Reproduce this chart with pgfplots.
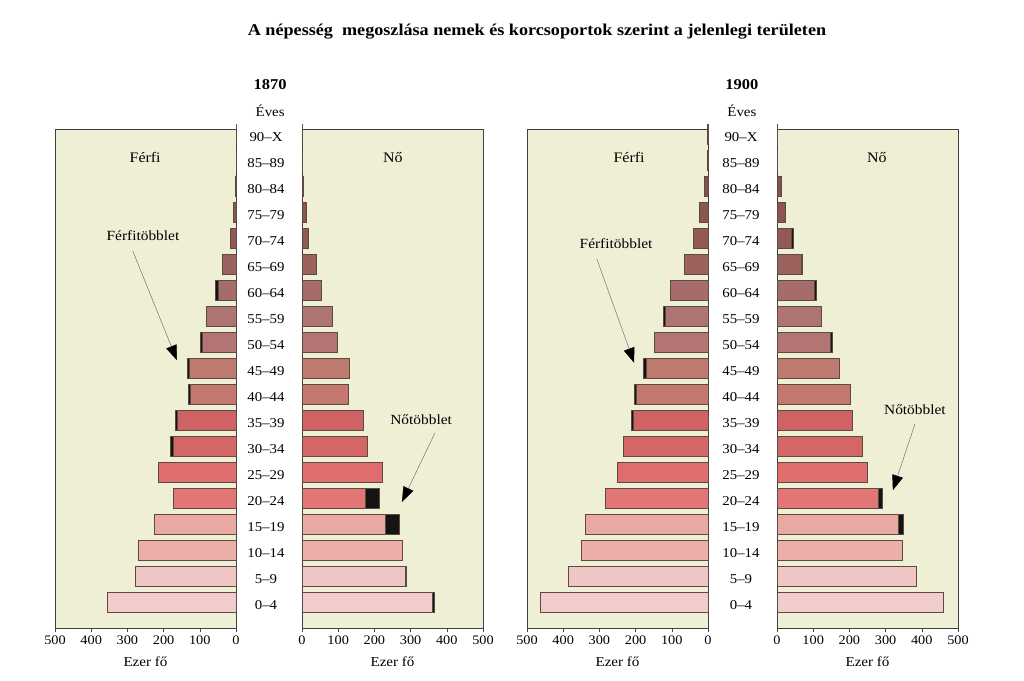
\documentclass[border=0pt]{standalone}
\usepackage{pgfplots}
\pgfplotsset{compat=1.18}
\usepackage{pgfplotstable}
\usepackage{fontspec}
\setmainfont{Liberation Serif}[FakeStretch=1.1]
\usetikzlibrary{arrows.meta}

\definecolor{bg}{HTML}{EFEFD5}
\definecolor{edge}{HTML}{5B4B42}
\definecolor{c0}{HTML}{F2CCCC}
\definecolor{c1}{HTML}{F0C6C4}
\definecolor{c2}{HTML}{ECAEA9}
\definecolor{c3}{HTML}{EAA8A2}
\definecolor{c4}{HTML}{E27575}
\definecolor{c5}{HTML}{DF6D6D}
\definecolor{c6}{HTML}{D56666}
\definecolor{c7}{HTML}{CF6363}
\definecolor{c8}{HTML}{C47870}
\definecolor{c9}{HTML}{BC7A70}
\definecolor{c10}{HTML}{B37474}
\definecolor{c11}{HTML}{AE7474}
\definecolor{c12}{HTML}{A66C6C}
\definecolor{c13}{HTML}{9C625E}
\definecolor{c14}{HTML}{935A55}
\definecolor{c15}{HTML}{8D5551}
\definecolor{c16}{HTML}{86504C}
\definecolor{c17}{HTML}{7F4A46}
\definecolor{c18}{HTML}{784542}

% i = age group index (0 = 0-4 ... 18 = 90-X); mb/fb = base, mt/ft = base + surplus
\pgfplotstableread{
i  mb   mt   fb   ft
0  357  357  361  366
1  277  277  284  289
2  270  270  278  278
3  225  225  229  269
4  172  172  176  214
5  216  216  221  221
6  173  182  179  179
7  163  169  170  170
8  126  133  129  129
9  128  135  131  131
10 93   100  98   98
11 82   82   84   84
12 50   56   54   54
13 38   38   40   40
14 16   16   17   17
15 8    8    12   12
16 2    2    4    4
17 0.5  0.5  1    1
18 0    0    0    0
}\dA

\pgfplotstableread{
i  mb   mt   fb   ft
0  463  463  459  459
1  385  385  384  384
2  350  350  347  347
3  340  340  336  348
4  285  285  281  292
5  252  252  250  250
6  233  233  235  235
7  206  212  208  208
8  197  203  201  201
9  170  179  172  172
10 149  149  146  152
11 117  123  121  121
12 103  103  103  108
13 67   67   66   71
14 42   42   40   45
15 25   25   24   24
16 11   11   12   12
17 3    3    2    2
18 1    1    0.5  0.5
}\dB

\tikzset{
  lbl/.style={font=\fontsize{14.5}{17}\selectfont},
  albl/.style={font=\fontsize{14}{16}\selectfont},
  arr/.style={draw=black!55, line width=0.5pt, -{Triangle[length=15pt, width=11pt, color=black]}},
}

\pgfplotsset{
  pyr/.style={
    scale only axis, width=181pt, height=499pt,
    xmin=0, xmax=500, ymin=-1.0, ymax=18.2,
    axis background/.style={fill=bg},
    axis line style={draw=black!75, line width=0.9pt},
    ytick=\empty,
    xtick={0,100,...,500}, xtick pos=bottom,
    tick align=outside, major tick length=4pt,
    tick style={black!70, line width=0.6pt},
    ticklabel style={font=\fontsize{13}{15}\selectfont},
    /pgf/number format/assume math mode=true,
    xlabel={Ezer fő},
    every axis x label/.style={at={(axis description cs:0.5,0)}, anchor=center, yshift=-34pt, font=\fontsize{13.7}{16}\selectfont},
    clip=false,
    anchor=south west,
  },
  sur/.style={xbar, bar width=20pt, bar shift=0pt, fill=black!92, draw=edge, line width=0.5pt},
  bas/.style={xbar, bar width=20pt, bar shift=0pt, draw=edge, line width=0.5pt},
  agelabels/.style={
    ytick={0,...,18}, ytick pos=left,
    yticklabels={0–4,5–9,10–14,15–19,20–24,25–29,30–34,35–39,40–44,45–49,50–54,55–59,60–64,65–69,70–74,75–79,80–84,85–89,90–X},
    ytick style={draw=none},
    yticklabel style={anchor=center, xshift=-32pt, yshift=-3pt, font=\fontsize{13.5}{15}\selectfont},
  },
}

\begin{document}
\begin{tikzpicture}
\path[use as bounding box] (0,0) rectangle (1024pt,680pt);
\node[font=\bfseries\fontsize{16.5}{19}\selectfont] at (537pt,648pt) {A népesség\ \ megoszlása nemek és korcsoportok szerint a jelenlegi területen};

% ---- 1870 male
\begin{axis}[pyr, x dir=reverse, at={(55pt,52pt)}]
\pgfplotsinvokeforeach{0,...,18}{
  \addplot[sur, x filter/.expression={\coordindex==#1 ? x : nan}] table[x=mt, y=i] {\dA};
  \addplot[bas, fill=c#1, x filter/.expression={\coordindex==#1 ? x : nan}] table[x=mb, y=i] {\dA};
}
\node[lbl] at (axis cs:251,17.1) {Férfi};
\node[albl] at (axis cs:257,14.1) {Férfitöbblet};
\draw[arr] (axis cs:285,13.5) -- (axis cs:163,9.3);
\end{axis}

% ---- 1870 female
\begin{axis}[pyr, agelabels, at={(302pt,52pt)}]
\pgfplotsinvokeforeach{0,...,18}{
  \addplot[sur, x filter/.expression={\coordindex==#1 ? x : nan}] table[x=ft, y=i] {\dA};
  \addplot[bas, fill=c#1, x filter/.expression={\coordindex==#1 ? x : nan}] table[x=fb, y=i] {\dA};
}
\node[lbl] at (axis cs:251,17.1) {Nő};
\node[albl] at (axis cs:329,7.0) {Nőtöbblet};
\draw[arr] (axis cs:367,6.5) -- (axis cs:276,3.85);
\node[font=\bfseries\fontsize{15}{17}\selectfont] at (axis cs:-88,19.9) {1870};
\node[font=\fontsize{13.5}{15}\selectfont] at (axis cs:-88,18.9) {Éves};
\end{axis}

% ---- 1900 male
\begin{axis}[pyr, x dir=reverse, at={(527pt,52pt)}]
\pgfplotsinvokeforeach{0,...,18}{
  \addplot[sur, x filter/.expression={\coordindex==#1 ? x : nan}] table[x=mt, y=i] {\dB};
  \addplot[bas, fill=c#1, x filter/.expression={\coordindex==#1 ? x : nan}] table[x=mb, y=i] {\dB};
}
\node[lbl] at (axis cs:218,17.1) {Férfi};
\node[albl] at (axis cs:254,13.8) {Férfitöbblet};
\draw[arr] (axis cs:307,13.2) -- (axis cs:204,9.2);
\end{axis}

% ---- 1900 female
\begin{axis}[pyr, agelabels, at={(777pt,52pt)}]
\pgfplotsinvokeforeach{0,...,18}{
  \addplot[sur, x filter/.expression={\coordindex==#1 ? x : nan}] table[x=ft, y=i] {\dB};
  \addplot[bas, fill=c#1, x filter/.expression={\coordindex==#1 ? x : nan}] table[x=fb, y=i] {\dB};
}
\node[lbl] at (axis cs:276,17.1) {Nő};
\node[albl] at (axis cs:381,7.4) {Nőtöbblet};
\draw[arr] (axis cs:381,6.85) -- (axis cs:320,4.3);
\node[font=\bfseries\fontsize{15}{17}\selectfont] at (axis cs:-97,19.9) {1900};
\node[font=\fontsize{13.5}{15}\selectfont] at (axis cs:-97,18.9) {Éves};
\end{axis}
\end{tikzpicture}
\end{document}
